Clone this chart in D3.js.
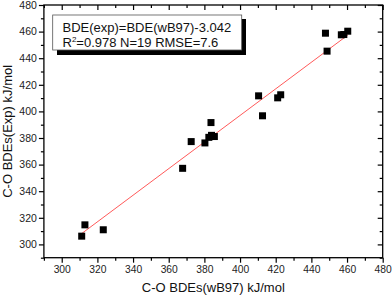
<!DOCTYPE html>
<html><head><meta charset="utf-8">
<script src="https://cdn.jsdelivr.net/npm/d3@7"></script>
<style>body{margin:0;background:#fff}svg{display:block}text{font-family:Arial,"Liberation Sans",sans-serif}</style>
</head><body><svg id="c" width="392" height="298"></svg>
<script>
const xVals = [311.2, 313.0, 323.3, 367.8, 372.6, 380.3, 382.5, 384.0, 383.7, 385.6, 410.4, 412.6, 421.1, 422.8, 447.9, 448.8, 456.8, 458.2, 460.4];
const yVals = [306.2, 314.7, 311.0, 357.2, 377.3, 376.3, 380.5, 382.0, 391.6, 381.1, 411.7, 396.7, 410.2, 412.5, 458.8, 445.3, 457.6, 457.8, 460.3];
const xTicks = [300, 320, 340, 360, 380, 400, 420, 440, 460, 480];
const yTicks = [300, 320, 340, 360, 380, 400, 420, 440, 460, 480];
const slope = 1, intercept = -3.042;
const legendLines = ["BDE(exp)=BDE(wB97)-3.042", "R2=0.978 N=19 RMSE=7.6"];

const svg = d3.select("#c");
const L = 43.9, R = 382.7, T = 5, B = 257.7;
const x = d3.scaleLinear().domain([290, 480]).range([L, R]);
const y = d3.scaleLinear().domain([290, 480]).range([B, T]);
const minor = d3.range(290, 481, 10);

svg.append("rect").attr("x", L).attr("y", T).attr("width", R - L).attr("height", B - T)
  .attr("fill", "none").attr("stroke", "#000").attr("stroke-width", 1.3);

const xb = d3.axisBottom(x).tickValues(minor).tickSize(0).tickFormat(d => xTicks.includes(d) ? String(d) : "").tickPadding(8);
const gxb = svg.append("g").attr("transform", `translate(0,${B})`).call(xb);
gxb.select(".domain").remove();
gxb.selectAll(".tick line").attr("y2", d => xTicks.includes(d) ? 5 : 3).attr("stroke-width", 1.2);
gxb.selectAll("text").attr("font-size", 10.3).attr("fill", "#222");

const yl = d3.axisLeft(y).tickValues(minor).tickSize(0).tickFormat(d => yTicks.includes(d) ? String(d) : "").tickPadding(7);
const gyl = svg.append("g").attr("transform", `translate(${L},0)`).call(yl);
gyl.select(".domain").remove();
gyl.selectAll(".tick line").attr("x2", d => yTicks.includes(d) ? -5 : -3).attr("stroke-width", 1.2);
gyl.selectAll("text").attr("font-size", 10.5).attr("fill", "#222");

const gxt = svg.append("g").attr("transform", `translate(0,${T})`).call(d3.axisTop(x).tickValues(minor).tickSize(0).tickFormat(""));
gxt.select(".domain").remove();
gxt.selectAll(".tick line").attr("y2", d => xTicks.includes(d) ? 5 : 3).attr("stroke-width", 1.2);

const gyr = svg.append("g").attr("transform", `translate(${R},0)`).call(d3.axisRight(y).tickValues(minor).tickSize(0).tickFormat(""));
gyr.select(".domain").remove();
gyr.selectAll(".tick line").attr("x2", d => yTicks.includes(d) ? -5 : -3).attr("stroke-width", 1.2);

const x0 = d3.min(xVals), x1 = d3.max(xVals);
svg.append("line").attr("x1", x(x0)).attr("y1", y(slope * x0 + intercept))
  .attr("x2", x(x1)).attr("y2", y(slope * x1 + intercept))
  .attr("stroke", "#ff5a5a").attr("stroke-width", 1);

const s = 7;
svg.append("g").selectAll("rect").data(xVals.map((v, i) => [v, yVals[i]])).join("rect")
  .attr("x", d => x(d[0]) - s / 2).attr("y", d => y(d[1]) - s / 2)
  .attr("width", s).attr("height", s).attr("fill", "#000");

const lg = svg.append("g");
lg.append("rect").attr("x", 57).attr("y", 19).attr("width", 189).attr("height", 36).attr("fill", "#000");
lg.append("rect").attr("x", 52.7).attr("y", 15).attr("width", 189).attr("height", 35)
  .attr("fill", "#fff").attr("stroke", "#555").attr("stroke-width", 0.8);
lg.append("text").attr("x", 62.5).attr("y", 31.5).attr("font-size", 13).attr("fill", "#111").text(legendLines[0]);
const t2 = lg.append("text").attr("x", 62.5).attr("y", 46.5).attr("font-size", 13).attr("fill", "#111");
t2.append("tspan").text("R");
t2.append("tspan").attr("font-size", 8).attr("dy", -5).text("2");
t2.append("tspan").attr("dy", 5).text(legendLines[1].slice(2));

svg.append("text").attr("x", (L + R) / 2).attr("y", 292).attr("text-anchor", "middle")
  .attr("font-size", 13).attr("fill", "#111").text("C-O BDEs(wB97) kJ/mol");
svg.append("text").attr("transform", `translate(12,${(T + B) / 2}) rotate(-90)`).attr("text-anchor", "middle")
  .attr("font-size", 13).attr("fill", "#111").text("C-O BDEs(Exp) kJ/mol");
</script></body></html>
